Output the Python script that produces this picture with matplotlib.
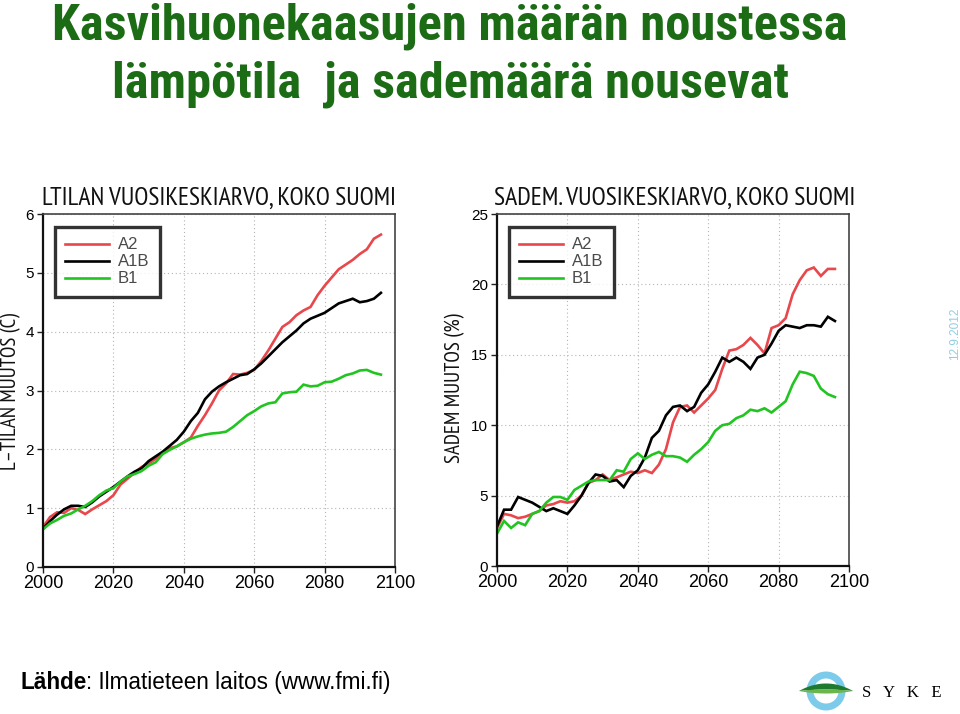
import os
import matplotlib
matplotlib.use("Agg")
import matplotlib.pyplot as plt
from matplotlib import font_manager as fm
from matplotlib.patches import Circle, Polygon
from matplotlib.textpath import TextPath
import numpy as np

# ---------------- data ----------------
years = list(range(2000, 2097, 2))

temp_a2 = [0.68, 0.85, 0.93, 0.92, 1.00, 0.97, 0.90, 0.98, 1.05, 1.12,
           1.22, 1.40, 1.50, 1.60, 1.70, 1.76, 1.84, 1.93, 2.02, 2.05,
           2.12, 2.20, 2.40, 2.58, 2.78, 3.00, 3.12, 3.28, 3.27, 3.30,
           3.35, 3.50, 3.68, 3.88, 4.08, 4.16, 4.28, 4.36, 4.42, 4.62,
           4.78, 4.92, 5.06, 5.14, 5.22, 5.32, 5.40, 5.58, 5.65]
temp_a1b = [0.65, 0.78, 0.89, 0.98, 1.04, 1.04, 1.02, 1.10, 1.20, 1.28,
            1.36, 1.45, 1.54, 1.62, 1.68, 1.80, 1.88, 1.96, 2.06, 2.16,
            2.30, 2.48, 2.62, 2.85, 2.98, 3.07, 3.14, 3.20, 3.26, 3.28,
            3.36, 3.46, 3.58, 3.70, 3.82, 3.92, 4.02, 4.14, 4.22, 4.27,
            4.32, 4.40, 4.48, 4.52, 4.56, 4.50, 4.52, 4.56, 4.66]
temp_b1 = [0.64, 0.74, 0.80, 0.87, 0.91, 0.98, 1.04, 1.12, 1.22, 1.30,
           1.34, 1.45, 1.54, 1.58, 1.63, 1.72, 1.78, 1.92, 1.99, 2.05,
           2.12, 2.18, 2.22, 2.25, 2.27, 2.28, 2.30, 2.38, 2.48, 2.58,
           2.65, 2.73, 2.78, 2.80, 2.95, 2.97, 2.98, 3.10, 3.07, 3.08,
           3.14, 3.15, 3.20, 3.26, 3.29, 3.34, 3.35, 3.30, 3.27]

prec_a2 = [2.7, 3.7, 3.6, 3.4, 3.5, 3.7, 3.9, 4.3, 4.4, 4.6,
           4.5, 4.6, 5.0, 5.9, 6.1, 6.5, 6.1, 6.3, 6.5, 6.7,
           6.6, 6.8, 6.6, 7.2, 8.3, 10.2, 11.3, 11.4, 10.9, 11.4,
           11.9, 12.5, 14.0, 15.3, 15.4, 15.7, 16.2, 15.7, 15.1, 16.9,
           17.1, 17.6, 19.3, 20.3, 21.0, 21.2, 20.6, 21.1, 21.1]
prec_a1b = [2.8, 4.0, 4.0, 4.9, 4.7, 4.5, 4.2, 3.9, 4.1, 3.9,
            3.7, 4.3, 5.0, 5.9, 6.5, 6.4, 6.0, 6.1, 5.6, 6.4,
            6.8, 7.7, 9.1, 9.6, 10.7, 11.3, 11.4, 11.0, 11.3, 12.3,
            12.9, 13.8, 14.8, 14.5, 14.8, 14.5, 14.0, 14.8, 15.0, 15.8,
            16.7, 17.1, 17.0, 16.9, 17.1, 17.1, 17.0, 17.7, 17.4]
prec_b1 = [2.3, 3.2, 2.7, 3.1, 2.9, 3.7, 3.9, 4.5, 4.9, 4.9,
           4.7, 5.4, 5.7, 6.0, 6.1, 6.1, 6.1, 6.8, 6.7, 7.6,
           8.0, 7.6, 7.9, 8.1, 7.8, 7.8, 7.7, 7.4, 7.9, 8.3,
           8.8, 9.6, 10.0, 10.1, 10.5, 10.7, 11.1, 11.0, 11.2, 10.9,
           11.3, 11.7, 12.9, 13.8, 13.7, 13.5, 12.6, 12.2, 12.0]

scenario_labels = ["A2", "A1B", "B1"]
x_ticks = [2000, 2020, 2040, 2060, 2080, 2100]
temp_ticks = [0, 1, 2, 3, 4, 5, 6]
prec_ticks = [0, 5, 10, 15, 20, 25]

title_lines = ["Kasvihuonekaasujen määrän noustessa",
               "lämpötila  ja sademäärä nousevat"]
panel_titles = ["LTILAN VUOSIKESKIARVO, KOKO SUOMI",
                "SADEM. VUOSIKESKIARVO, KOKO SUOMI"]
panel_ylabels = ["L–TILAN MUUTOS (C)", "SADEM MUUTOS (%)"]
source_bold = "Lähde"
source_rest = ": Ilmatieteen laitos (www.fmi.fi)"
date_text = "12.9.2012"
logo_text = "S   Y   K   E"

colors = ["#e8474c", "#000000", "#22c422"]

# ---------------- fonts ----------------
all_files = [f.fname for f in fm.fontManager.ttflist]


def find_file(tests):
    for test in tests:
        for fn in all_files:
            b = os.path.basename(fn).lower()
            if test(b):
                return fn
    return None


bold_narrow = find_file([
    lambda b: b.startswith("robotocondensed-bold"),
    lambda b: b.startswith("notosans-condensedbold"),
    lambda b: b.startswith("firasanscondensed-bold"),
    lambda b: "narrow" in b and "bold" in b and "italic" not in b,
])
reg_narrow = find_file([
    lambda b: "narrow" in b and "regular" in b,
    lambda b: b in ("dejavusanscondensed.ttf",),
])

fp_title = fm.FontProperties(fname=bold_narrow) if bold_narrow else fm.FontProperties(family="Liberation Sans", weight="bold")
fp_panel = fm.FontProperties(fname=reg_narrow) if reg_narrow else fm.FontProperties(family="DejaVu Sans")

plt.rcParams["font.family"] = ["Liberation Sans", "DejaVu Sans"]

W, H = 960, 714
fig = plt.figure(figsize=(W / 100, H / 100), dpi=100)
fig.patch.set_facecolor("white")


def fx(px):
    return px / W


def fy(py):
    return 1 - py / H


axes_px = [(43, 395, 214, 567), (497, 849, 214, 566)]
datasets = [(temp_a2, temp_a1b, temp_b1), (prec_a2, prec_a1b, prec_b1)]
yticks_list = [temp_ticks, prec_ticks]
ylabel_x = [11, 455]
axes = []
for i, (x0, x1, y0, y1) in enumerate(axes_px):
    ax = fig.add_axes([fx(x0), fy(y1), fx(x1 - x0), (y1 - y0) / H])
    for ser, lab, col in zip(datasets[i], scenario_labels, colors):
        ax.plot(years, ser, color=col, lw=1.9, label=lab, solid_joinstyle="miter")
    ax.set_xlim(2000, 2100)
    yt = yticks_list[i]
    ax.set_ylim(yt[0], yt[-1])
    ax.set_xticks(x_ticks)
    ax.set_yticks(yt)
    ax.grid(True, color="#b4b4b4", lw=0.8, linestyle=(0, (1, 2.5)))
    ax.tick_params(axis="both", direction="out", length=4, width=1, color="#222")
    ax.tick_params(axis="x", labelsize=13, pad=1.5)
    ax.tick_params(axis="y", labelsize=11, pad=2.5)
    for s in ["left", "bottom"]:
        ax.spines[s].set_linewidth(1.6)
        ax.spines[s].set_color("#111")
    for s in ["top", "right"]:
        ax.spines[s].set_linewidth(1.2)
        ax.spines[s].set_color("#444")
    leg = ax.legend(loc="upper left", bbox_to_anchor=(0.034, 0.963), borderaxespad=0,
                    fancybox=False, frameon=True, fontsize=12, handlelength=2.6,
                    handletextpad=0.55, labelspacing=0.12, borderpad=0.62)
    leg.get_frame().set_edgecolor("black")
    leg.get_frame().set_linewidth(2.4)
    for t in leg.get_texts():
        t.set_color("#4a4a4a")
    for ln in leg.get_lines():
        ln.set_linewidth(1.9)
    axes.append(ax)

fig.canvas.draw()
renderer = fig.canvas.get_renderer()


def fit_width(t, target_px):
    w = t.get_window_extent(renderer=renderer).width
    t.set_fontsize(t.get_fontsize() * target_px / w)


def fit_height(t, target_px):
    h = t.get_window_extent(renderer=renderer).height
    t.set_fontsize(t.get_fontsize() * target_px / h)


# main title: fit width, but do not exceed the reference cap height
t1 = fig.text(fx(450), fy(40), title_lines[0], fontproperties=fp_title, fontsize=30,
              color="#1c6c16", ha="center", va="baseline")
fit_width(t1, 796)
cap_per_pt = TextPath((0, 0), "H", prop=fp_title, size=1).get_extents().height * 100 / 72
max_size = 37.0 / cap_per_pt
if t1.get_fontsize() > max_size:
    t1.set_fontsize(max_size)
t2 = fig.text(fx(451), fy(98), title_lines[1], fontproperties=fp_title, fontsize=t1.get_fontsize(),
              color="#1c6c16", ha="center", va="baseline")

# panel titles and y labels
for i, (x0, x1, y0, y1) in enumerate(axes_px):
    tt = fig.text(fx((x0 + x1) / 2 + (2 if i else 0)), fy(205), panel_titles[i],
                  fontproperties=fp_panel, fontsize=13, color="#111", ha="center", va="baseline")
    fit_width(tt, (395 - 43) if i == 0 else 360)
    yl = fig.text(fx(ylabel_x[i]), fy(391 if i == 0 else 388), panel_ylabels[i],
                  fontproperties=fp_panel, fontsize=12, color="#111", rotation=90,
                  ha="center", va="center")
    fit_height(yl, 157 if i == 0 else 150)

# source text
sb = fig.text(fx(20), fy(689), source_bold, fontsize=16, fontweight="bold", color="black",
              ha="left", va="baseline")
sr = fig.text(fx(20), fy(689), source_rest, fontsize=16, color="black", ha="left", va="baseline")
wb = sb.get_window_extent(renderer=renderer).width
wr = sr.get_window_extent(renderer=renderer).width
scale = 372 / (wb + wr)
sb.set_fontsize(16 * scale)
sr.set_fontsize(16 * scale)
wb = sb.get_window_extent(renderer=renderer).width
sr.set_x(fx(20 + wb))

# date
fig.text(fx(955), fy(334), date_text, fontsize=8.5, color="#93cde0", rotation=90,
         ha="center", va="center")

# logo
lax = fig.add_axes([0, 0, 1, 1], zorder=-1)
lax.set_xlim(0, W)
lax.set_ylim(H, 0)
lax.axis("off")
lax.add_patch(Circle((826, 691), 16, fill=False, lw=5.0, ec="#7ccbea"))
xs = np.linspace(799, 853, 60)
u = 1 - ((xs - 826) / 27.0) ** 2
top = 691 - 7.5 * u
mid = 691 - 1.5 * u
bot = 691 + 2.5 * u
lax.add_patch(Polygon(np.column_stack([np.r_[xs, xs[::-1]], np.r_[top, mid[::-1]]]),
                      closed=True, fc="#1e7a2e", ec="none"))
lax.add_patch(Polygon(np.column_stack([np.r_[xs, xs[::-1]], np.r_[mid, bot[::-1]]]),
                      closed=True, fc="#6bb54a", ec="none"))
fig.text(fx(862), fy(697), logo_text, fontsize=12, family="Liberation Serif", color="black",
         ha="left", va="baseline")

fig.savefig("out.png", dpi=100, facecolor="white")
